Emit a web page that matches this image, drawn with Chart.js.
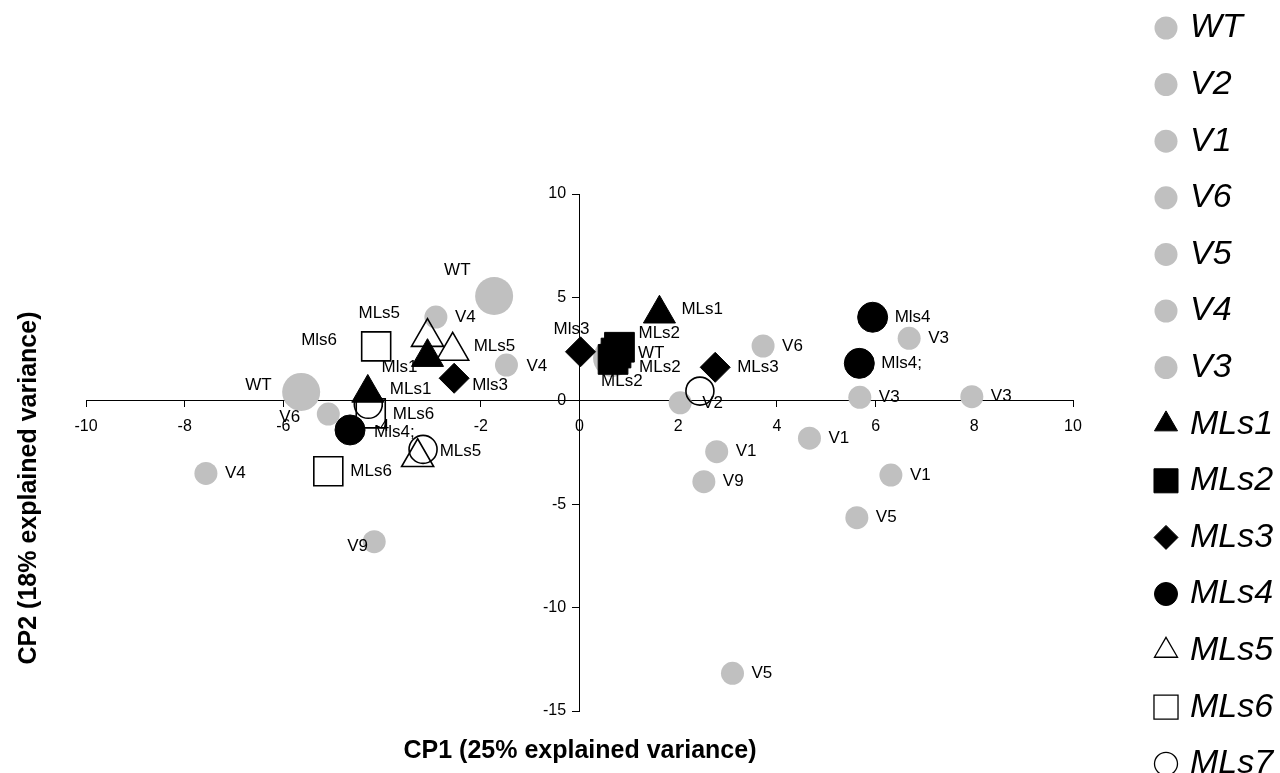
<!DOCTYPE html>
<html>
<head>
<meta charset="utf-8">
<script src="https://cdn.jsdelivr.net/npm/chart.js@4.4.1/dist/chart.umd.min.js"></script>
<style>
  html, body { margin: 0; padding: 0; background: #fff; }
  #wrap { width: 1280px; height: 773px; position: relative; }
</style>
</head>
<body>
<div id="wrap"><canvas id="pcaChart"></canvas></div>
<script>
// PCA score plot, CP1 vs CP2

// grey varieties
const wtX = [-1.73, -5.64, 0.66];
const wtY = [5.07, 0.43, 2.07];
const v4X = [-2.91, -1.48, -7.57];
const v4Y = [4.05, 1.73, -3.51];
const v6X = [-5.09, 3.72];
const v6Y = [-0.64, 2.65];
const v9X = [-4.16, 2.52];
const v9Y = [-6.81, -3.91];
const v2X = [2.04];
const v2Y = [-0.1];
const v1X = [2.78, 4.66, 6.31];
const v1Y = [-2.46, -1.81, -3.59];
const v5X = [5.62, 3.10];
const v5Y = [-5.65, -13.18];
const v3X = [5.68, 7.95, 6.68];
const v3Y = [0.17, 0.20, 3.02];

// MLs lines
const ml1X = [1.62, -3.08, -4.29];
const ml1Y = [4.21, 2.11, 0.38];
const ml1Labels = ['MLs1', 'Mls1', 'MLs1'];
const ml2X = [0.81, 0.74, 0.68];
const ml2Y = [2.59, 2.31, 2.00];
const ml2Labels = ['MLs2', 'MLs2', 'MLs2'];
const ml3X = [0.02, 2.75, -2.54];
const ml3Y = [2.37, 1.62, 1.09];
const ml3Labels = ['Mls3', 'MLs3', 'Mls3'];
const ml4X = [5.94, 5.67, -4.65];
const ml4Y = [4.04, 1.81, -1.41];
const ml4Labels = ['Mls4', 'Mls4;', 'Mls4;'];
const ml5X = [-3.08, -2.57, -3.28];
const ml5Y = [3.08, 2.41, -2.73];
const ml5Labels = ['MLs5', 'MLs5', 'MLs5'];
const ml6X = [-4.12, -4.23, -5.09];
const ml6Y = [2.63, -0.61, -3.41];
const ml6Labels = ['Mls6', 'MLs6', 'MLs6'];
const ml7X = [2.44, -4.28, -3.17];
const ml7Y = [0.47, -0.17, -2.35];
const ml7Labels = ['', '', ''];

// axis ticks
const xTicks = [-10, -8, -6, -4, -2, 0, 2, 4, 6, 8, 10];
const yTicks = [-15, -10, -5, 0, 5, 10];

const legendNames = ['WT', 'V2', 'V1', 'V6', 'V5', 'V4', 'V3', 'MLs1', 'MLs2', 'MLs3', 'MLs4', 'MLs5', 'MLs6', 'MLs7'];

const FONT = "'Liberation Sans', Arial, Helvetica, sans-serif";
const GREY = '#c0c0c0';

// label offsets in pixels from the marker centre (text start, text middle)
const R = [19, 0];
const labelPos = {
  WT: [[-50, -26], [-56, -7], [26, -5]],
  V4: [R, [20, 1], R],
  V6: [[-49, 3], R],
  V9: [[-27, 5], R],
  V2: [[22, 0]],
  V1: [R, R, R],
  V5: [R, R],
  V3: [R, R, R],
  MLs1: [[22, -4], [-46, 10], [22, -4]],
  MLs2: [[19, -14], [23, 14], [-12, 22]],
  MLs3: [[-27, -22], [22, 0], [18, 7]],
  MLs4: [[22, 0], [22, 0], [24, 2]],
  MLs5: [[-69, -24], [21, -5], [22, -6]],
  MLs6: [[-75, -6], [22, 1], [22, 0]],
  MLs7: [R, R, R]
};

function toPoints(xs, ys) {
  return xs.map((x, i) => ({ x: x, y: ys[i] }));
}

function greySet(name, xs, ys, big) {
  return {
    label: name,
    data: toPoints(xs, ys),
    pointLabels: xs.map(() => name),
    pointStyle: 'circle',
    pointRadius: big ? 19 : 11.5,
    backgroundColor: GREY,
    borderColor: GREY,
    borderWidth: 0,
    order: 3
  };
}

function markSet(name, xs, ys, labels, style, radius, filled) {
  return {
    label: name,
    data: toPoints(xs, ys),
    pointLabels: labels,
    pointStyle: style,
    pointRadius: radius,
    backgroundColor: filled ? '#000' : 'rgba(255,255,255,0)',
    borderColor: '#000',
    borderWidth: filled ? 1 : 1.6,
    order: filled ? 2 : 1
  };
}

const datasets = [
  greySet('WT', wtX, wtY, true),
  greySet('V2', v2X, v2Y),
  greySet('V1', v1X, v1Y),
  greySet('V6', v6X, v6Y),
  greySet('V5', v5X, v5Y),
  greySet('V4', v4X, v4Y),
  greySet('V3', v3X, v3Y),
  greySet('V9', v9X, v9Y),
  markSet('MLs1', ml1X, ml1Y, ml1Labels, 'triangle', 18.5, true),
  markSet('MLs2', ml2X, ml2Y, ml2Labels, 'rect', 21, true),
  markSet('MLs3', ml3X, ml3Y, ml3Labels, 'rectRot', 15, true),
  markSet('MLs4', ml4X, ml4Y, ml4Labels, 'circle', 15, true),
  markSet('MLs5', ml5X, ml5Y, ml5Labels, 'triangle', 18.5, false),
  markSet('MLs6', ml6X, ml6Y, ml6Labels, 'rect', 20.5, false),
  markSet('MLs7', ml7X, ml7Y, ml7Labels, 'circle', 14, false)
];

// legend marker look per series
const legendMarks = {
  MLs1: { style: 'triangle', r: 13.3, fill: '#000', bw: 1 },
  MLs2: { style: 'rect', r: 17, fill: '#000', bw: 1 },
  MLs3: { style: 'rectRot', r: 12, fill: '#000', bw: 1 },
  MLs4: { style: 'circle', r: 11.5, fill: '#000', bw: 1 },
  MLs5: { style: 'triangle', r: 13.3, fill: '#fff', bw: 1.3 },
  MLs6: { style: 'rect', r: 17, fill: '#fff', bw: 1.3 },
  MLs7: { style: 'circle', r: 11.5, fill: '#fff', bw: 1.3 }
};

const pointLabelPlugin = {
  id: 'pointLabels',
  afterDatasetsDraw(chart) {
    const ctx = chart.ctx;
    ctx.save();
    ctx.font = '17px ' + FONT;
    ctx.fillStyle = '#000';
    ctx.textAlign = 'left';
    ctx.textBaseline = 'middle';
    chart.data.datasets.forEach((ds, di) => {
      const meta = chart.getDatasetMeta(di);
      const offs = labelPos[ds.label] || [];
      meta.data.forEach((pt, i) => {
        const txt = ds.pointLabels[i];
        if (!txt) return;
        const o = offs[i] || R;
        ctx.fillText(txt, pt.x + o[0], pt.y + o[1]);
      });
    });
    ctx.restore();
  }
};

const extrasPlugin = {
  id: 'extras',
  afterDraw(chart) {
    const ctx = chart.ctx;
    ctx.save();
    // axis titles
    ctx.fillStyle = '#000';
    ctx.font = 'bold 25px ' + FONT;
    ctx.textAlign = 'center';
    ctx.textBaseline = 'middle';
    ctx.fillText('CP1 (25% explained variance)', 580, 751);
    ctx.save();
    ctx.translate(29, 488);
    ctx.rotate(-Math.PI / 2);
    ctx.fillText('CP2 (18% explained variance)', 0, 0);
    ctx.restore();

    // legend
    legendNames.forEach((name, i) => {
      const y = 28 + 56.6 * i;
      const m = legendMarks[name] || { style: 'circle', r: 11.5, fill: GREY, bw: 0 };
      ctx.fillStyle = m.fill;
      ctx.strokeStyle = m.bw ? '#000' : GREY;
      ctx.lineWidth = m.bw;
      Chart.helpers.drawPoint(ctx, { pointStyle: m.style, radius: m.r, rotation: 0, borderWidth: m.bw }, 1166, y);
      ctx.fillStyle = '#000';
      ctx.font = 'italic 34px ' + FONT;
      ctx.textAlign = 'left';
      ctx.textBaseline = 'middle';
      ctx.fillText(name, 1190, y);
    });
    ctx.restore();
  }
};

new Chart(document.getElementById('pcaChart'), {
  type: 'scatter',
  data: { datasets: datasets },
  options: {
    responsive: true,
    maintainAspectRatio: false,
    animation: false,
    events: [],
    clip: false,
    layout: { padding: { left: 86, right: 207, top: 194, bottom: 62 } },
    plugins: { legend: { display: false }, tooltip: { enabled: false } },
    scales: {
      x: {
        type: 'linear',
        min: -10,
        max: 10,
        position: { y: 0 },
        afterBuildTicks: (axis) => { axis.ticks = xTicks.map(v => ({ value: v })); },
        ticks: { color: '#000', font: { size: 16, family: FONT }, padding: 10, maxRotation: 0, autoSkip: false },
        grid: { drawOnChartArea: false, drawTicks: true, tickLength: 6, color: '#000' },
        border: { display: true, color: '#000', width: 1 }
      },
      y: {
        type: 'linear',
        min: -15,
        max: 10,
        position: { x: 0 },
        afterBuildTicks: (axis) => { axis.ticks = yTicks.map(v => ({ value: v })); },
        ticks: { color: '#000', font: { size: 16, family: FONT }, callback: v => v + '   ' },
        grid: { drawOnChartArea: false, drawTicks: true, tickLength: 7, color: '#000' },
        border: { display: true, color: '#000', width: 1 }
      }
    }
  },
  plugins: [pointLabelPlugin, extrasPlugin]
});
</script>
</body>
</html>
